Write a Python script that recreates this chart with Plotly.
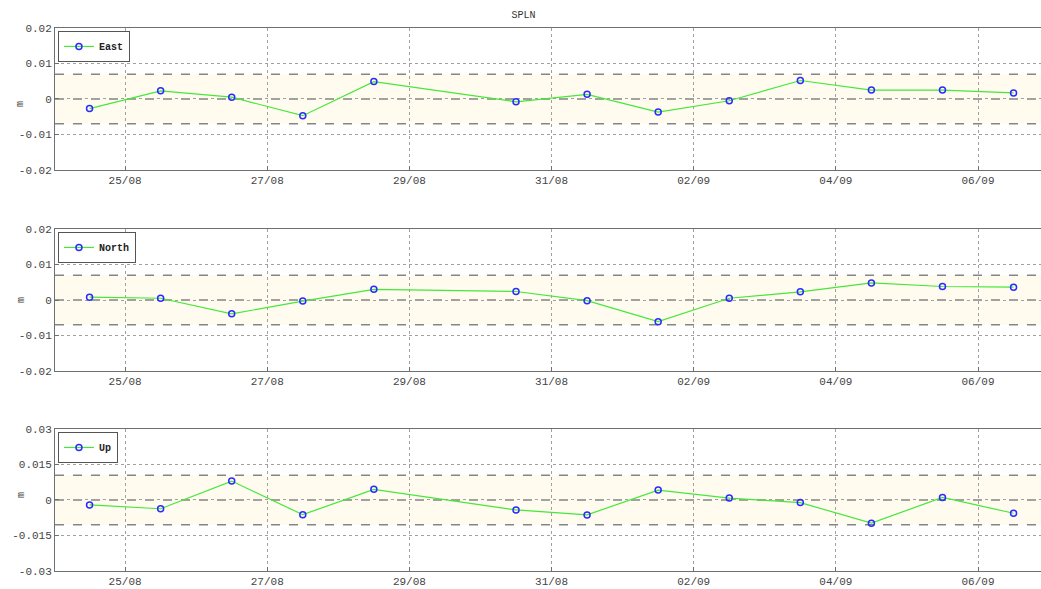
import plotly.graph_objects as go
from plotly.subplots import make_subplots

dates = ["2015-08-24 12:00", "2015-08-25 12:00", "2015-08-26 12:00", "2015-08-27 12:00",
         "2015-08-28 12:00", "2015-08-30 12:00", "2015-08-31 12:00", "2015-09-01 12:00",
         "2015-09-02 12:00", "2015-09-03 12:00", "2015-09-04 12:00", "2015-09-05 12:00",
         "2015-09-06 12:00"]
east = [-0.0027, 0.0023, 0.0005, -0.0047, 0.0049, -0.0008, 0.0013, -0.0037,
        -0.0005, 0.0052, 0.0025, 0.0025, 0.0017]
north = [0.0008, 0.0005, -0.0039, -0.0003, 0.0030, 0.0024, -0.0002, -0.0061,
         0.0005, 0.0023, 0.0048, 0.0038, 0.0036]
up = [-0.0021, -0.0037, 0.0080, -0.0062, 0.0045, -0.0042, -0.0063, 0.0042,
      0.0008, -0.0011, -0.0098, 0.0011, -0.0056]

names = ["East", "North", "Up"]
series = [east, north, up]
y_limits = [0.02, 0.02, 0.03]
y_ticks = [[-0.02, -0.01, 0, 0.01, 0.02], [-0.02, -0.01, 0, 0.01, 0.02],
           [-0.03, -0.015, 0, 0.015, 0.03]]
y_ticktext = [["-0.02", "-0.01", "0", "0.01", "0.02"], ["-0.02", "-0.01", "0", "0.01", "0.02"],
              ["-0.03", "-0.015", "0", "0.015", "0.03"]]
bands = [0.007, 0.007, 0.0105]

x_range = ["2015-08-24 00:20", "2015-09-06 21:16"]
domains = [[0.7114, 0.9525], [0.3701, 0.6112], [0.0306, 0.2716]]

FONT = "Liberation Mono, DejaVu Sans Mono, monospace"
GRID = "#a0a0a0"
AXIS = "#707070"

fig = make_subplots(rows=3, cols=1)

for i, (nm, vals) in enumerate(zip(names, series)):
    row = i + 1
    leg = "legend" if i == 0 else f"legend{i+1}"
    fig.add_trace(go.Scatter(
        x=dates, y=vals, mode="lines+markers", name=f"<b>{nm}</b>",
        line=dict(color="#44e83a", width=1.2),
        marker=dict(symbol="circle-open", color="#2b2bff", size=6, line=dict(width=1.5)),
        legend=leg, showlegend=True,
    ), row=row, col=1)

    xa = "x" if i == 0 else f"x{i+1}"
    ya = "y" if i == 0 else f"y{i+1}"
    b = bands[i]
    fig.add_shape(type="rect", xref=f"{xa} domain", yref=ya, x0=0, x1=1, y0=-b, y1=b,
                  fillcolor="#fffbef", line=dict(width=0), layer="below")
    for yv in (-b, 0, b):
        fig.add_shape(type="line", xref=f"{xa} domain", yref=ya, x0=0, x1=1, y0=yv, y1=yv,
                      line=dict(color="#858585", width=1.5, dash="dash"), layer="below")

    fig.update_xaxes(row=row, col=1, type="date", range=x_range,
                     tick0="2015-08-25", dtick=172800000, tickformat="%d/%m",
                     showgrid=True, gridcolor=GRID, griddash="dot", gridwidth=1,
                     showline=True, linecolor=AXIS, linewidth=1, mirror=True,
                     ticks="inside", ticklen=4, tickcolor=AXIS,
                     tickfont=dict(family=FONT, size=11, color="#444"),
                     zeroline=False, domain=[0, 1], automargin=False)
    fig.update_yaxes(row=row, col=1, range=[-y_limits[i], y_limits[i]],
                     tickvals=y_ticks[i], ticktext=y_ticktext[i],
                     showgrid=True, gridcolor=GRID, griddash="dot", gridwidth=1,
                     showline=True, linecolor=AXIS, linewidth=1, mirror=True,
                     ticks="inside", ticklen=4, tickcolor=AXIS,
                     tickfont=dict(family=FONT, size=11, color="#444"),
                     zeroline=False, domain=domains[i], automargin=False)
    fig.add_annotation(xref="paper", yref="paper", x=-0.042, y=(domains[i][0] + domains[i][1]) / 2,
                       text="m", showarrow=False, textangle=-90,
                       font=dict(family=FONT, size=10, color="#444"))

legend_style = dict(bgcolor="white", bordercolor="#555", borderwidth=1,
                    font=dict(family=FONT, size=10, color="#222"),
                    xanchor="left", yanchor="top", itemwidth=30,
                    tracegroupgap=0)
fig.update_layout(
    width=1041, height=589,
    margin=dict(l=55, r=0, t=0, b=0, autoexpand=False),
    paper_bgcolor="white", plot_bgcolor="white",
    legend=dict(x=0.003, y=domains[0][1] - 0.005, **legend_style),
    legend2=dict(x=0.003, y=domains[1][1] - 0.005, **legend_style),
    legend3=dict(x=0.003, y=domains[2][1] - 0.005, **legend_style),
    title=dict(text="SPLN", x=0.503, xanchor="center", y=0.976, yanchor="middle",
               font=dict(family=FONT, size=10, color="#333")),
)

fig.write_html("out.html", config={"displayModeBar": False},
               post_script="document.body.style.margin='0';")
